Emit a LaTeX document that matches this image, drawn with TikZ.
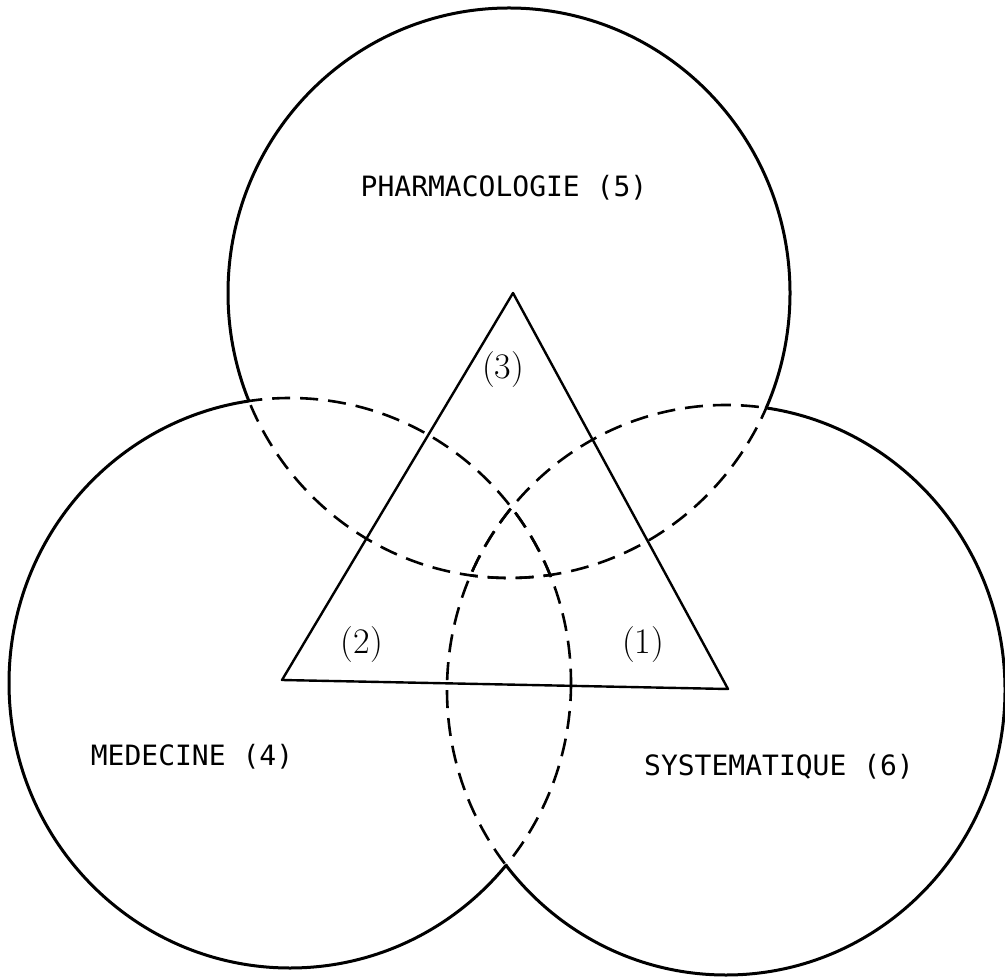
\documentclass[tikz,border=0pt]{standalone}
\usepackage{fontspec}
\newfontfamily\printfont{DejaVu Sans Mono}
\usepackage{tikz}

% the three fields (centre and radii in pixels of the drawing)
\newcommand{\pharmacircle}{(509,293) ellipse [x radius=281, y radius=285]}
\newcommand{\medcircle}{(290,683) ellipse [x radius=281, y radius=285]}
\newcommand{\systcircle}{(726,690) ellipse [x radius=279, y radius=285]}
\newcommand{\outside}{(-20,-20) rectangle (1025,997)}

\tikzset{
    venn/.style={line width=1.5pt, line join=round},
    venndash/.style={line width=1.3pt, dash pattern=on 9pt off 5pt},
    side/.style={line width=1.2pt, line join=round},
    field/.style={font=\printfont\fontsize{14}{14}\selectfont},
    zone/.style={font=\fontsize{18}{18}\selectfont},
}

\begin{document}
\begin{tikzpicture}[x=0.5pt, y=-0.5pt]
    \useasboundingbox (0,0) rectangle (1005,977);

    % Solid outlines, where a circle lies outside the two others
    \begin{scope}[even odd rule]
        \clip \outside \medcircle;
        \clip \outside \systcircle;
        \draw[venn] \pharmacircle;
    \end{scope}
    \begin{scope}[even odd rule]
        \clip \outside \pharmacircle;
        \clip \outside \systcircle;
        \draw[venn] \medcircle;
    \end{scope}
    \begin{scope}[even odd rule]
        \clip \outside \pharmacircle;
        \clip \outside \medcircle;
        \draw[venn] \systcircle;
    \end{scope}

    % Dashed outlines, inside another circle
    \begin{scope} \clip \medcircle;    \draw[venndash] \pharmacircle; \end{scope}
    \begin{scope} \clip \systcircle;   \draw[venndash] \pharmacircle; \end{scope}
    \begin{scope} \clip \pharmacircle; \draw[venndash] \medcircle;    \end{scope}
    \begin{scope} \clip \systcircle;   \draw[venndash] \medcircle;    \end{scope}
    \begin{scope} \clip \pharmacircle; \draw[venndash] \systcircle;   \end{scope}
    \begin{scope} \clip \medcircle;    \draw[venndash] \systcircle;   \end{scope}

    % Triangle
    \coordinate (apex) at (513,293);
    \coordinate (baseL) at (282,680);
    \coordinate (baseR) at (728,689);
    \draw[side] (apex) -- (baseL) -- (baseR) -- cycle;

    % Field names
    \node[field] (pharma) at (504,188) {PHARMACOLOGIE (5)};
    \node[field] (med) at (192,757) {MEDECINE (4)};
    \node[field] (syst) at (779,767) {SYSTEMATIQUE (6)};

    % Zones of the triangle
    \node[zone] (z3) at (503,370) {(3)};
    \node[zone] (z2) at (362,645) {(2)};
    \node[zone] (z1) at (643,645) {(1)};

\end{tikzpicture}
\end{document}
